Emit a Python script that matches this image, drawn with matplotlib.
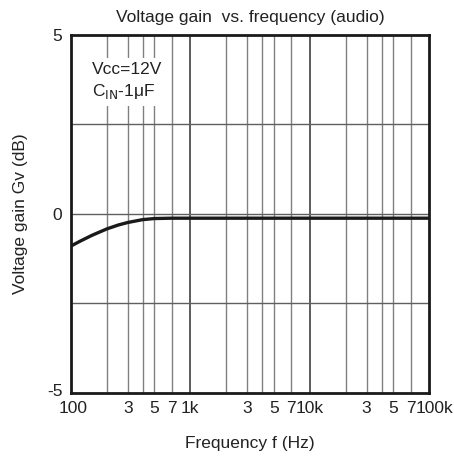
import numpy as np
import matplotlib
matplotlib.use("Agg")
import matplotlib.pyplot as plt
import matplotlib.transforms as mtransforms

plt.rcParams['font.family'] = ['Liberation Sans', 'DejaVu Sans']

# gain curve
freq = [100, 120, 150, 200, 250, 300, 400, 500, 700, 1000, 10000, 100000]
gain = [-0.9, -0.76, -0.6, -0.42, -0.31, -0.24, -0.16, -0.13, -0.12, -0.12,
        -0.12, -0.12]

xtick_pos = [100, 300, 500, 700, 1000, 3000, 5000, 7000, 10000,
             30000, 50000, 70000, 100000]
xtick_lbl = ['100', '3', '5', '7', '1k', '3', '5', '7', '10k',
             '3', '5', '7', '100k']
minor_grid = [m * d for d in (100, 1000, 10000) for m in (2, 3, 4, 5, 7)]
decade_grid = [1000, 10000]
ytick_pos = [-5, 0, 5]
ygrid = [-2.5, 0, 2.5]

fig = plt.figure(figsize=(4.54, 4.59), dpi=100)
ax = fig.add_axes([0.156, 0.144, 0.789, 0.780])

for xv in minor_grid:
    ax.axvline(xv, color='#808080', lw=1.0, zorder=1)
for xv in decade_grid:
    ax.axvline(xv, color='#303030', lw=1.1, zorder=1)
for yv in ygrid:
    ax.axhline(yv, color='#606060', lw=1.0, zorder=1)

ax.plot(freq, gain, color='#1a1a1a', lw=2.4, zorder=3)

ax.set_xscale('log')
ax.set_xlim(100, 100000)
ax.set_ylim(-5, 5)
ax.set_xticks(xtick_pos)
ax.set_xticklabels(xtick_lbl)
ax.xaxis.set_minor_locator(matplotlib.ticker.NullLocator())
ax.set_yticks(ytick_pos)
ax.set_yticklabels(['-5', '0', '5'])
ax.tick_params(length=0, labelsize=12.5, colors='#222222')
ax.tick_params(axis='x', pad=6)
ax.tick_params(axis='y', pad=6)

# nudge the end labels so they clear the neighbouring digits
xlbls = ax.get_xticklabels()
for lbl, dx in ((xlbls[0], 2), (xlbls[-1], 4)):
    lbl.set_transform(lbl.get_transform() +
                      mtransforms.ScaledTranslation(dx / 72, 0, fig.dpi_scale_trans))
ylbls = ax.get_yticklabels()
ylbls[0].set_transform(ylbls[0].get_transform() +
                       mtransforms.ScaledTranslation(0, 2 / 72, fig.dpi_scale_trans))

for s in ax.spines.values():
    s.set_linewidth(2.0)
    s.set_color('#1a1a1a')

ax.set_title('Voltage gain  vs. frequency (audio)', fontsize=12.5, pad=9,
             color='#222222')
ax.set_xlabel('Frequency f (Hz)', fontsize=12.5, labelpad=14, color='#222222')
ax.set_ylabel('Voltage gain Gv (dB)', fontsize=12.5, labelpad=14, color='#222222')

ax.text(0.058, 0.925, 'Vcc=12V\nC$_{\\mathrm{IN}}$-1\u03bcF', transform=ax.transAxes,
        fontsize=12.5, va='top', ha='left', color='#222222', linespacing=1.35,
        bbox=dict(facecolor='white', edgecolor='none', pad=4), zorder=4)

fig.savefig('out.png', dpi=100)
